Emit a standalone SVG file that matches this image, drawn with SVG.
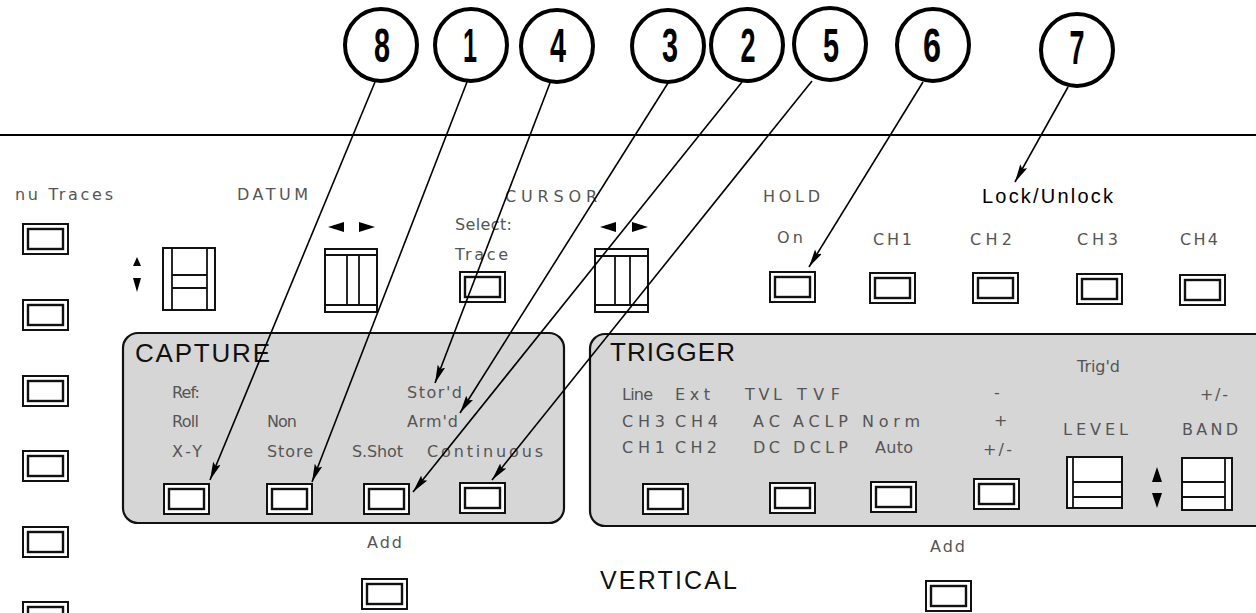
<svg xmlns="http://www.w3.org/2000/svg" width="1256" height="613" viewBox="0 0 1256 613">
<style>
.lb{font-family:"DejaVu Sans","Liberation Sans",Arial,sans-serif;font-size:16px;fill:#555}
.hd{font-family:"Liberation Sans",Arial,sans-serif;font-size:26px;fill:#111}
.num{font-family:"Liberation Sans",Arial,sans-serif;font-size:48px;font-weight:bold;fill:#000;text-anchor:middle}
.cir{fill:#fff;stroke:#000;stroke-width:4}
.panel{fill:#d6d6d6;stroke:#111;stroke-width:2.2}
.sl{fill:#fff;stroke:#111;stroke-width:2}
.ln{stroke:#111;stroke-width:1.8;fill:none}
.lead{stroke:#000;stroke-width:1.6;fill:none;marker-end:url(#ah)}
.tri{fill:#000}
</style>
<defs>
<marker id="ah" markerWidth="20" markerHeight="10" refX="18" refY="4" orient="auto" markerUnits="userSpaceOnUse"><path d="M0,0 L18,4 L0,8 L3,4 Z" fill="#000"/></marker>
<symbol id="btn" width="47" height="32" viewBox="0 0 47 32" overflow="visible"><rect x="1" y="1" width="45" height="30" fill="#fff" stroke="#111" stroke-width="2"/><rect x="6" y="6" width="35" height="20" fill="#fff" stroke="#111" stroke-width="2.4"/></symbol>
</defs>
<rect width="1256" height="613" fill="#fff"/>
<line x1="0" y1="135" x2="1256" y2="135" stroke="#000" stroke-width="2"/>

<g id="callouts">
<g id="c8"><circle class="cir" cx="381" cy="45" r="36"/><text class="num" x="382" y="62" textLength="16" lengthAdjust="spacingAndGlyphs">8</text></g>
<g id="c1"><circle class="cir" cx="471" cy="45" r="36"/><text class="num" x="470" y="62" textLength="14" lengthAdjust="spacingAndGlyphs">1</text></g>
<g id="c4"><circle class="cir" cx="557" cy="46" r="36"/><text class="num" x="558" y="62" textLength="16" lengthAdjust="spacingAndGlyphs">4</text></g>
<g id="c3"><circle class="cir" cx="668" cy="46" r="36"/><text class="num" x="670" y="62" textLength="16" lengthAdjust="spacingAndGlyphs">3</text></g>
<g id="c2"><circle class="cir" cx="747" cy="45" r="36"/><text class="num" x="748" y="62" textLength="15" lengthAdjust="spacingAndGlyphs">2</text></g>
<g id="c5"><circle class="cir" cx="830" cy="44" r="36"/><text class="num" x="831" y="62" textLength="16" lengthAdjust="spacingAndGlyphs">5</text></g>
<g id="c6"><circle class="cir" cx="933" cy="45" r="36"/><text class="num" x="932" y="62" textLength="18" lengthAdjust="spacingAndGlyphs">6</text></g>
<g id="c7"><circle class="cir" cx="1077" cy="50" r="36"/><text class="num" x="1077" y="64" textLength="15" lengthAdjust="spacingAndGlyphs">7</text></g>
</g>

<g id="left-column">
<text class="lb" x="113" y="200" text-anchor="end" textLength="98" lengthAdjust="spacing">nu Traces</text>
<use href="#btn" x="22" y="223"/>
<use href="#btn" x="22" y="299"/>
<use href="#btn" x="22" y="375"/>
<use href="#btn" x="22" y="450"/>
<use href="#btn" x="22" y="526"/>
<use href="#btn" x="22" y="601"/>
</g>

<g id="datum">
<text class="lb" x="237" y="200" textLength="71" lengthAdjust="spacing">DATUM</text>
<polygon class="tri" points="137,257 133,266 141,266"/>
<polygon class="tri" points="133,278 141,278 137,292"/>
<rect class="sl" x="163" y="248" width="52" height="62"/>
<line class="ln" x1="172" y1="248" x2="172" y2="310"/>
<line class="ln" x1="207" y1="248" x2="207" y2="310"/>
<line class="ln" x1="172" y1="275" x2="207" y2="275"/>
<line class="ln" x1="172" y1="288" x2="207" y2="288"/>
<polygon class="tri" points="328,227 344,222 344,232"/>
<polygon class="tri" points="375,227 359,222 359,232"/>
<rect class="sl" x="325" y="249" width="52" height="63"/>
<line class="ln" x1="325" y1="255" x2="377" y2="255"/>
<line class="ln" x1="325" y1="305" x2="377" y2="305"/>
<line class="ln" x1="347" y1="255" x2="347" y2="305"/>
<line class="ln" x1="359" y1="255" x2="359" y2="305"/>
</g>

<g id="cursor">
<text class="lb" x="505" y="202" textLength="92" lengthAdjust="spacing">CURSOR</text>
<text class="lb" x="455" y="230" textLength="57" lengthAdjust="spacing">Select:</text>
<text class="lb" x="455" y="260" textLength="53" lengthAdjust="spacing">Trace</text>
<use href="#btn" x="459" y="271"/>
<polygon class="tri" points="600,227 616,222 616,232"/>
<polygon class="tri" points="648,227 632,222 632,232"/>
<rect class="sl" x="595" y="249" width="53" height="63"/>
<line class="ln" x1="595" y1="256" x2="648" y2="256"/>
<line class="ln" x1="595" y1="305" x2="648" y2="305"/>
<line class="ln" x1="615" y1="256" x2="615" y2="305"/>
<line class="ln" x1="630" y1="256" x2="630" y2="305"/>
</g>

<g id="hold">
<text class="lb" x="763" y="202" textLength="57" lengthAdjust="spacing">HOLD</text>
<text class="lb" x="777" y="243" textLength="26" lengthAdjust="spacing">On</text>
<use href="#btn" x="769" y="271"/>
<text x="982" y="203" font-family="Liberation Sans, Arial, sans-serif" font-size="20" fill="#000" textLength="131" lengthAdjust="spacing">Lock/Unlock</text>
<text class="lb" x="873" y="245" textLength="39" lengthAdjust="spacing">CH1</text>
<text class="lb" x="970" y="245" textLength="42" lengthAdjust="spacing">CH2</text>
<text class="lb" x="1077" y="245" textLength="41" lengthAdjust="spacing">CH3</text>
<text class="lb" x="1180" y="245" textLength="38" lengthAdjust="spacing">CH4</text>
<use href="#btn" x="869" y="272"/>
<use href="#btn" x="972" y="272"/>
<use href="#btn" x="1076" y="273"/>
<use href="#btn" x="1179" y="274"/>
</g>

<g id="capture">
<rect class="panel" x="123" y="333" width="441" height="190" rx="15"/>
<text class="hd" x="135" y="362" textLength="135" lengthAdjust="spacing">CAPTURE</text>
<text class="lb" x="172" y="398" textLength="28" lengthAdjust="spacing">Ref:</text>
<text class="lb" x="172" y="427" textLength="27" lengthAdjust="spacing">Roll</text>
<text class="lb" x="172" y="457" textLength="30" lengthAdjust="spacing">X-Y</text>
<text class="lb" x="267" y="427" textLength="30" lengthAdjust="spacing">Non</text>
<text class="lb" x="267" y="457" textLength="46" lengthAdjust="spacing">Store</text>
<text class="lb" x="352" y="457" textLength="51" lengthAdjust="spacing">S.Shot</text>
<text class="lb" x="407" y="398" textLength="55" lengthAdjust="spacing">Stor'd</text>
<text class="lb" x="407" y="427" textLength="51" lengthAdjust="spacing">Arm'd</text>
<text class="lb" x="427" y="457" textLength="116" lengthAdjust="spacing">Continuous</text>
<use href="#btn" x="163" y="483"/>
<use href="#btn" x="266" y="483"/>
<use href="#btn" x="363" y="483"/>
<use href="#btn" x="459" y="482"/>
</g>

<g id="trigger">
<rect class="panel" x="590" y="334" width="690" height="192" rx="15"/>
<text class="hd" x="610" y="361" textLength="125" lengthAdjust="spacing">TRIGGER</text>
<text class="lb" x="622" y="400" textLength="31" lengthAdjust="spacing">Line</text>
<text class="lb" x="675" y="400" textLength="35" lengthAdjust="spacing">Ext</text>
<text class="lb" x="745" y="400" textLength="37" lengthAdjust="spacing">TVL</text>
<text class="lb" x="797" y="400" textLength="43" lengthAdjust="spacing">TVF</text>
<text class="lb" x="622" y="427" textLength="43" lengthAdjust="spacing">CH3</text>
<text class="lb" x="675" y="427" textLength="43" lengthAdjust="spacing">CH4</text>
<text class="lb" x="753" y="427" textLength="27" lengthAdjust="spacing">AC</text>
<text class="lb" x="793" y="427" textLength="55" lengthAdjust="spacing">ACLP</text>
<text class="lb" x="862" y="427" textLength="58" lengthAdjust="spacing">Norm</text>
<text class="lb" x="622" y="453" textLength="43" lengthAdjust="spacing">CH1</text>
<text class="lb" x="675" y="453" textLength="42" lengthAdjust="spacing">CH2</text>
<text class="lb" x="753" y="453" textLength="27" lengthAdjust="spacing">DC</text>
<text class="lb" x="793" y="453" textLength="55" lengthAdjust="spacing">DCLP</text>
<text class="lb" x="875" y="453" textLength="38" lengthAdjust="spacing">Auto</text>
<text class="lb" x="994" y="398">-</text>
<text class="lb" x="994" y="426">+</text>
<text class="lb" x="983" y="455" textLength="29" lengthAdjust="spacing">+/-</text>
<text class="lb" x="1077" y="372" textLength="43" lengthAdjust="spacing">Trig'd</text>
<text class="lb" x="1200" y="400" textLength="28" lengthAdjust="spacing">+/-</text>
<text class="lb" x="1063" y="435" textLength="65" lengthAdjust="spacing">LEVEL</text>
<text class="lb" x="1182" y="435" textLength="56" lengthAdjust="spacing">BAND</text>
<use href="#btn" x="642" y="483"/>
<use href="#btn" x="769" y="482"/>
<use href="#btn" x="870" y="481"/>
<use href="#btn" x="973" y="478"/>
<rect class="sl" x="1067" y="457" width="55" height="51"/>
<line class="ln" x1="1073" y1="457" x2="1073" y2="508"/>
<line class="ln" x1="1073" y1="482" x2="1122" y2="482"/>
<line class="ln" x1="1073" y1="497" x2="1122" y2="497"/>
<polygon class="tri" points="1157,467 1152,482 1162,482"/>
<polygon class="tri" points="1152,493 1162,493 1157,508"/>
<rect class="sl" x="1182" y="458" width="50" height="52"/>
<line class="ln" x1="1225" y1="458" x2="1225" y2="510"/>
<line class="ln" x1="1182" y1="482" x2="1225" y2="482"/>
<line class="ln" x1="1182" y1="497" x2="1225" y2="497"/>
</g>

<g id="vertical">
<text class="lb" x="367" y="548" textLength="35" lengthAdjust="spacing">Add</text>
<use href="#btn" x="361" y="578"/>
<text x="600" y="589" font-family="Liberation Sans, Arial, sans-serif" font-size="25" fill="#111" textLength="137" lengthAdjust="spacing">VERTICAL</text>
<text class="lb" x="930" y="552" textLength="35" lengthAdjust="spacing">Add</text>
<use href="#btn" x="925" y="580"/>
</g>

<g id="connectors">
<line class="lead" x1="375" y1="82" x2="210" y2="480"/>
<line class="lead" x1="467" y1="82" x2="312" y2="482"/>
<line class="lead" x1="550" y1="83" x2="435" y2="383"/>
<line class="lead" x1="668" y1="83" x2="460" y2="413"/>
<line class="lead" x1="742" y1="82" x2="413" y2="492"/>
<line class="lead" x1="812" y1="81" x2="492" y2="480"/>
<line class="lead" x1="923" y1="82" x2="809" y2="267"/>
<line class="lead" x1="1068" y1="87" x2="1015" y2="182"/>
</g>
</svg>
